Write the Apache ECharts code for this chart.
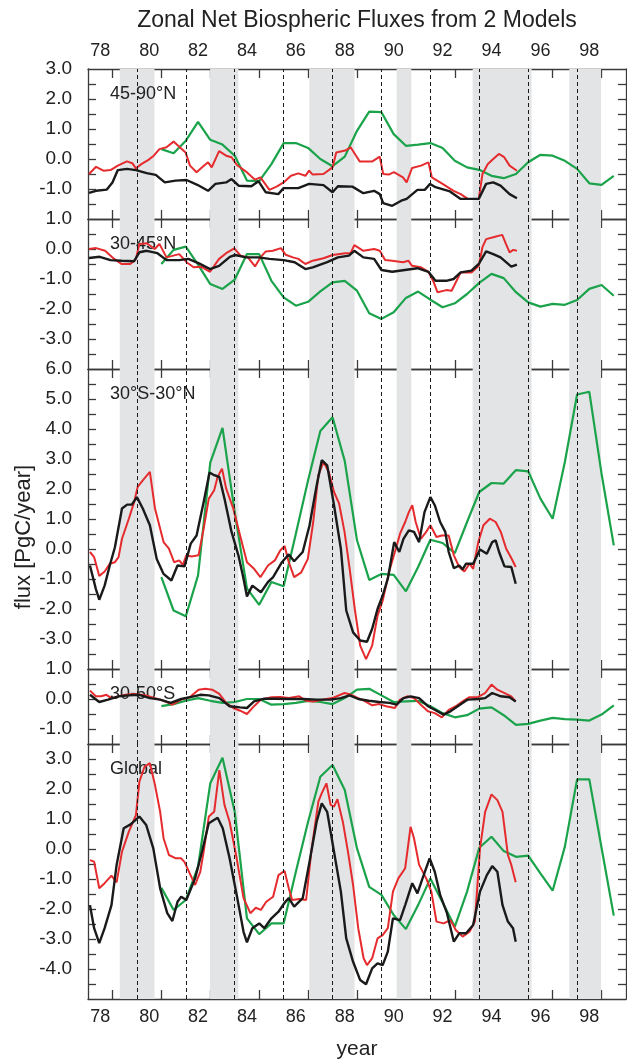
<!DOCTYPE html>
<html>
<head>
<meta charset="utf-8">
<script src="https://cdn.jsdelivr.net/npm/echarts@6/dist/echarts.min.js"></script>
<style>
html,body{margin:0;padding:0;background:#fff;}
#chart{width:627px;height:1061px;}
</style>
</head>
<body>
<div id="chart"></div>
<script>
// ---------------- data ----------------
const xLabelYears = [1978, 1980, 1982, 1984, 1986, 1988, 1990, 1992, 1994, 1996, 1998];
const xTickYears = [1978.5, 1980.5, 1982.5, 1984.5, 1986.5, 1988.5, 1990.5, 1992.5, 1994.5, 1996.5, 1998.5];
const dashedYears = [1979.5, 1981.5, 1983.5, 1985.5, 1987.5, 1989.5, 1991.5, 1993.5, 1995.5, 1997.5];
const ensoBands = [[1978.8, 1980.22], [1982.49, 1983.65], [1986.55, 1988.4], [1990.12, 1990.72], [1993.23, 1995.64], [1997.18, 1998.48]];

const greenYears = [1980.5, 1981, 1981.5, 1982, 1982.5, 1983, 1983.5, 1984, 1984.5, 1985, 1985.5, 1986, 1986.5, 1987, 1987.5, 1988, 1988.5, 1989, 1989.5, 1990, 1990.5, 1991, 1991.5, 1992, 1992.5, 1993, 1993.5, 1994, 1994.5, 1995, 1995.5, 1996, 1996.5, 1997, 1997.5, 1998, 1998.5, 1999];

const green45_90N = [0.33, 0.19, 0.61, 1.24, 0.64, 0.48, 0.11, -0.72, -0.74, -0.17, 0.53, 0.53, 0.37, 0.0, -0.24, 0.08, 0.94, 1.58, 1.56, 0.83, 0.44, 0.48, 0.53, 0.37, -0.06, -0.28, -0.36, -0.56, -0.64, -0.5, -0.11, 0.14, 0.11, -0.06, -0.33, -0.81, -0.86, -0.56];
const green30_45N = [-0.5, -0.03, 0.08, -0.52, -1.17, -1.33, -1.02, -0.17, -0.17, -1.06, -1.61, -1.89, -1.76, -1.41, -1.11, -1.06, -1.39, -2.14, -2.33, -2.11, -1.63, -1.42, -1.69, -1.94, -1.81, -1.5, -1.13, -0.83, -0.97, -1.44, -1.78, -1.92, -1.83, -1.86, -1.7, -1.33, -1.2, -1.56];
const green30S_30N = [-0.94, -2.05, -2.24, -0.88, 2.88, 4.04, 1.23, -1.31, -1.86, -1.1, -1.24, 0.51, 2.29, 3.93, 4.39, 2.93, 0.29, -1.03, -0.83, -0.86, -1.41, -0.6, 0.31, 0.2, -0.14, 0.9, 1.9, 2.2, 2.18, 2.63, 2.59, 1.68, 1.01, 2.9, 5.15, 5.24, 2.51, 0.12];
const green30_50S = [-0.24, -0.17, -0.06, 0.03, -0.06, -0.13, -0.1, 0.0, 0.0, -0.19, -0.17, -0.13, -0.06, -0.1, -0.17, 0.03, 0.31, 0.34, 0.12, -0.1, -0.08, -0.06, -0.24, -0.47, -0.61, -0.54, -0.32, -0.28, -0.54, -0.86, -0.83, -0.72, -0.63, -0.67, -0.69, -0.72, -0.52, -0.21];
const greenGlobal = [-1.29, -2.03, -1.7, -0.59, 2.19, 3.04, 1.24, -2.31, -2.84, -2.48, -2.48, -0.76, 0.91, 2.41, 2.8, 1.97, 0.02, -1.26, -1.53, -2.2, -2.67, -1.87, -0.98, -1.78, -2.59, -1.42, 0.04, 0.41, -0.07, -0.26, -0.22, -0.81, -1.39, 0.08, 2.32, 2.32, 0.04, -2.22];

const red45_90N = [[1977.54,-0.5],[1977.83,-0.26],[1978.13,-0.39],[1978.42,-0.37],[1978.72,-0.22],[1979.09,-0.08],[1979.31,-0.14],[1979.46,-0.31],[1979.68,-0.17],[1979.97,-0.03],[1980.19,0.11],[1980.42,0.33],[1980.71,0.39],[1981.0,0.58],[1981.23,0.41],[1981.49,0.22],[1981.67,-0.22],[1981.94,-0.44],[1982.19,-0.26],[1982.41,-0.11],[1982.56,-0.28],[1982.86,0.26],[1983.15,0.11],[1983.37,0.06],[1983.59,-0.2],[1983.96,-0.42],[1984.33,-0.69],[1984.55,-0.61],[1984.92,-1.03],[1985.21,-0.92],[1985.5,-0.78],[1985.8,-0.56],[1986.1,-0.48],[1986.39,-0.56],[1986.54,-0.39],[1986.69,-0.52],[1987.13,-0.5],[1987.5,-0.28],[1987.65,0.22],[1988.02,0.28],[1988.24,0.39],[1988.46,0.11],[1988.61,-0.08],[1989.13,-0.08],[1989.43,0.08],[1989.57,-0.5],[1989.8,-0.52],[1990.01,-0.44],[1990.38,-0.61],[1990.53,-0.78],[1990.75,-0.3],[1991.12,-0.22],[1991.42,-0.11],[1991.56,-0.61],[1992.0,-0.83],[1992.45,-1.06],[1992.74,-1.17],[1993.03,-1.33],[1993.48,-1.33],[1993.63,-0.5],[1993.85,-0.17],[1994.07,0.0],[1994.3,0.17],[1994.52,0.06],[1994.74,-0.22],[1995.04,-0.39]];
const black45_90N = [[1977.54,-1.13],[1977.83,-1.06],[1978.27,-1.02],[1978.5,-0.78],[1978.72,-0.37],[1979.09,-0.33],[1979.46,-0.37],[1979.9,-0.47],[1980.27,-0.53],[1980.64,-0.78],[1981.08,-0.72],[1981.53,-0.7],[1981.97,-0.86],[1982.41,-1.06],[1982.71,-0.83],[1983.15,-0.78],[1983.37,-0.67],[1983.66,-0.89],[1984.18,-0.91],[1984.47,-0.74],[1984.77,-1.11],[1985.28,-1.17],[1985.5,-0.97],[1986.1,-0.97],[1986.54,-0.83],[1987.13,-0.87],[1987.5,-1.11],[1987.72,-0.91],[1988.31,-0.92],[1988.76,-1.14],[1989.2,-1.06],[1989.43,-1.17],[1989.57,-1.47],[1989.94,-1.56],[1990.31,-1.39],[1990.53,-1.33],[1990.97,-1.03],[1991.27,-1.03],[1991.49,-0.83],[1991.71,-0.94],[1992.3,-1.08],[1992.74,-1.33],[1993.48,-1.33],[1993.78,-0.83],[1994.07,-0.78],[1994.37,-0.89],[1994.74,-1.17],[1995.04,-1.31]];

const red30_45N = [[1977.54,0.0],[1977.83,0.03],[1978.2,-0.06],[1978.57,-0.33],[1978.87,-0.5],[1979.23,-0.5],[1979.46,-0.33],[1979.6,0.17],[1979.9,0.19],[1980.23,0.0],[1980.42,0.17],[1980.71,-0.28],[1981.23,-0.17],[1981.53,-0.44],[1981.82,-0.61],[1982.12,-0.59],[1982.49,-0.76],[1982.86,-0.33],[1983.15,-0.14],[1983.48,0.02],[1983.74,-0.22],[1984.04,-0.28],[1984.33,-0.58],[1984.55,-0.28],[1984.77,-0.08],[1985.06,-0.06],[1985.39,0.03],[1985.58,-0.19],[1985.88,-0.28],[1986.1,-0.33],[1986.39,-0.5],[1986.69,-0.39],[1987.13,-0.31],[1987.5,-0.2],[1988.02,-0.14],[1988.24,-0.14],[1988.39,0.13],[1988.76,-0.06],[1989.2,0.0],[1989.43,-0.06],[1989.65,-0.37],[1989.94,-0.39],[1990.38,-0.44],[1990.6,-0.39],[1990.75,-0.56],[1991.12,-0.61],[1991.42,-0.76],[1991.64,-1.11],[1991.79,-1.44],[1992.15,-1.37],[1992.37,-1.39],[1992.74,-0.78],[1993.18,-0.78],[1993.48,-0.56],[1993.63,0.06],[1993.78,0.33],[1994.07,0.39],[1994.44,0.47],[1994.59,0.17],[1994.74,-0.11],[1994.89,-0.03],[1995.04,-0.06]];
const black30_45N = [[1977.54,-0.3],[1977.98,-0.26],[1978.42,-0.37],[1978.87,-0.39],[1979.38,-0.41],[1979.6,-0.11],[1979.9,-0.06],[1980.34,-0.14],[1980.71,-0.37],[1981.23,-0.37],[1981.6,-0.33],[1982.04,-0.48],[1982.49,-0.67],[1982.86,-0.56],[1983.3,-0.26],[1983.52,-0.2],[1983.96,-0.28],[1984.47,-0.28],[1984.92,-0.33],[1985.5,-0.37],[1985.95,-0.44],[1986.39,-0.67],[1986.69,-0.61],[1987.28,-0.44],[1987.72,-0.28],[1988.17,-0.22],[1988.39,-0.06],[1988.76,-0.28],[1989.2,-0.33],[1989.5,-0.7],[1989.94,-0.76],[1990.53,-0.69],[1990.97,-0.64],[1991.42,-0.76],[1991.71,-1.06],[1992.15,-1.06],[1992.45,-1.0],[1992.74,-0.78],[1993.18,-0.72],[1993.48,-0.5],[1993.78,-0.08],[1994.07,-0.17],[1994.37,-0.28],[1994.81,-0.59],[1995.04,-0.52]];

const red30S_30N = [[1977.58,-0.1],[1977.75,-0.27],[1977.96,-0.9],[1978.18,-0.75],[1978.39,-0.49],[1978.6,-0.44],[1978.75,-0.27],[1978.89,0.34],[1979.17,1.01],[1979.39,1.57],[1979.53,2.07],[1979.74,2.29],[1980.03,2.57],[1980.24,1.35],[1980.59,0.23],[1980.81,0.01],[1981.02,-0.44],[1981.23,-0.38],[1981.38,-0.53],[1981.52,-0.21],[1981.73,-0.25],[1982.02,-0.21],[1982.23,0.68],[1982.44,1.68],[1982.66,1.96],[1982.8,2.4],[1982.98,2.68],[1983.15,2.01],[1983.44,1.35],[1983.72,0.45],[1984.0,-0.44],[1984.29,-0.66],[1984.55,-0.94],[1984.86,-0.55],[1985.14,-0.38],[1985.36,-0.05],[1985.54,0.1],[1985.71,-0.44],[1985.93,-0.94],[1986.21,-0.79],[1986.49,-0.33],[1986.71,0.9],[1986.92,2.46],[1987.13,2.9],[1987.35,2.57],[1987.56,1.9],[1987.77,1.51],[1987.99,0.57],[1988.2,-0.66],[1988.41,-2.0],[1988.63,-3.22],[1988.87,-3.67],[1989.12,-3.22],[1989.34,-2.22],[1989.55,-1.72],[1989.83,-0.71],[1990.05,-0.1],[1990.26,0.51],[1990.47,0.9],[1990.62,1.23],[1990.76,1.46],[1990.9,0.9],[1991.11,0.34],[1991.33,0.57],[1991.5,0.79],[1991.75,0.4],[1991.97,0.45],[1992.25,0.45],[1992.46,-0.21],[1992.68,-0.6],[1992.89,-0.75],[1993.1,-0.49],[1993.25,-0.66],[1993.46,0.23],[1993.67,0.79],[1993.93,1.01],[1994.17,0.9],[1994.38,0.57],[1994.6,0.01],[1994.81,-0.3],[1994.99,-0.6]];
const black30S_30N = [[1977.58,-0.55],[1977.82,-1.33],[1977.96,-1.69],[1978.18,-1.22],[1978.39,-0.55],[1978.6,0.06],[1978.89,1.35],[1979.1,1.48],[1979.29,1.48],[1979.5,1.73],[1979.74,1.35],[1980.03,0.79],[1980.31,-0.33],[1980.59,-0.83],[1980.91,-1.05],[1981.16,-0.55],[1981.45,-0.58],[1981.7,0.18],[1981.94,0.45],[1982.23,1.57],[1982.47,2.55],[1982.66,2.46],[1982.87,2.4],[1983.08,1.68],[1983.37,0.57],[1983.65,-0.21],[1983.86,-0.99],[1984.0,-1.58],[1984.22,-1.22],[1984.57,-1.44],[1984.86,-1.1],[1985.07,-0.94],[1985.43,-0.44],[1985.71,-0.18],[1985.93,-0.41],[1986.28,-0.1],[1986.56,0.79],[1986.85,2.12],[1987.06,2.96],[1987.28,2.79],[1987.56,1.46],[1987.84,0.01],[1988.06,-2.05],[1988.34,-2.78],[1988.63,-3.05],[1988.91,-3.09],[1989.12,-2.66],[1989.34,-2.0],[1989.55,-1.55],[1989.76,-0.99],[1990.02,0.23],[1990.23,-0.1],[1990.4,0.34],[1990.62,0.62],[1990.83,0.57],[1991.04,0.23],[1991.26,1.23],[1991.5,1.73],[1991.68,1.46],[1991.9,0.9],[1992.11,0.57],[1992.25,-0.1],[1992.46,-0.64],[1992.68,-0.55],[1992.82,-0.68],[1992.96,-0.49],[1993.25,-0.49],[1993.53,-0.02],[1993.81,-0.16],[1994.03,0.23],[1994.17,0.29],[1994.31,-0.1],[1994.53,-0.58],[1994.81,-0.6],[1994.99,-1.16]];

const red30_50S = [[1977.58,0.28],[1977.82,0.09],[1978.04,0.09],[1978.25,0.14],[1978.46,0.03],[1978.75,0.09],[1979.03,0.14],[1979.46,0.17],[1979.88,0.12],[1980.24,0.03],[1980.59,-0.06],[1980.95,-0.19],[1981.31,-0.02],[1981.66,0.06],[1982.02,0.31],[1982.3,0.34],[1982.58,0.31],[1982.87,0.17],[1983.15,-0.13],[1983.44,-0.3],[1983.72,-0.39],[1984.0,-0.5],[1984.29,-0.24],[1984.57,-0.02],[1985.0,0.06],[1985.36,0.07],[1985.71,0.03],[1986.14,0.09],[1986.42,-0.06],[1986.71,-0.08],[1987.13,-0.02],[1987.49,0.03],[1987.99,0.2],[1988.27,0.14],[1988.55,0.03],[1988.84,-0.08],[1989.12,-0.21],[1989.41,-0.17],[1989.69,-0.24],[1990.05,-0.3],[1990.26,-0.02],[1990.55,0.09],[1990.83,0.03],[1991.11,-0.19],[1991.4,-0.41],[1991.68,-0.47],[1991.97,-0.61],[1992.25,-0.36],[1992.54,-0.24],[1992.82,-0.08],[1993.1,0.06],[1993.46,0.07],[1993.74,0.2],[1994.0,0.48],[1994.24,0.31],[1994.6,0.17],[1994.81,0.09],[1994.99,-0.08]];
const black30_50S = [[1977.58,0.14],[1977.96,-0.1],[1978.32,-0.02],[1978.75,0.09],[1979.17,0.12],[1979.6,0.14],[1980.03,0.03],[1980.45,-0.02],[1980.88,-0.13],[1981.31,0.0],[1981.73,0.07],[1982.09,0.14],[1982.44,0.12],[1982.87,0.03],[1983.29,-0.24],[1983.72,-0.28],[1984.0,-0.3],[1984.29,-0.08],[1984.71,0.01],[1985.14,0.01],[1985.71,0.0],[1986.28,0.0],[1986.85,-0.02],[1987.42,-0.02],[1987.84,0.03],[1988.2,0.12],[1988.55,0.0],[1988.98,-0.06],[1989.41,-0.1],[1989.83,-0.13],[1990.12,-0.19],[1990.4,0.03],[1990.69,0.09],[1991.04,0.03],[1991.4,-0.24],[1991.68,-0.36],[1992.04,-0.52],[1992.32,-0.41],[1992.68,-0.21],[1993.03,-0.02],[1993.46,0.0],[1993.74,0.03],[1994.03,0.2],[1994.38,0.09],[1994.74,0.06],[1994.99,-0.08]];

const redGlobal = [[1977.58,-0.37],[1977.75,-0.42],[1977.96,-1.31],[1978.18,-1.14],[1978.46,-0.89],[1978.67,-1.11],[1978.89,-0.09],[1979.17,0.58],[1979.46,1.13],[1979.6,2.24],[1979.81,2.74],[1980.03,2.86],[1980.24,2.13],[1980.45,1.24],[1980.59,0.36],[1980.81,-0.2],[1981.09,-0.31],[1981.31,-0.31],[1981.45,-0.44],[1981.66,-0.81],[1981.88,-1.2],[1982.09,-0.76],[1982.23,-0.09],[1982.44,1.08],[1982.66,1.24],[1982.87,2.63],[1983.08,1.47],[1983.29,0.91],[1983.58,-0.31],[1983.86,-1.64],[1984.14,-2.14],[1984.36,-1.96],[1984.57,-2.03],[1984.79,-1.76],[1985.07,-1.59],[1985.29,-0.87],[1985.54,-0.73],[1985.71,-1.31],[1985.85,-1.7],[1986.14,-1.67],[1986.42,-1.7],[1986.63,-0.09],[1986.92,1.58],[1987.06,1.86],[1987.25,2.19],[1987.42,1.47],[1987.56,1.41],[1987.7,1.66],[1987.92,0.91],[1988.13,-0.09],[1988.34,-1.2],[1988.55,-2.64],[1988.77,-3.64],[1988.91,-3.87],[1989.12,-3.64],[1989.34,-2.98],[1989.55,-2.87],[1989.76,-2.64],[1989.97,-1.42],[1990.19,-0.98],[1990.47,-0.64],[1990.69,0.74],[1990.83,0.36],[1991.04,-0.53],[1991.33,-0.98],[1991.54,-1.42],[1991.75,-2.42],[1992.04,-2.48],[1992.32,-2.37],[1992.54,-2.7],[1992.82,-2.92],[1993.1,-2.76],[1993.32,-2.42],[1993.53,0.02],[1993.74,1.24],[1994.0,1.82],[1994.24,1.63],[1994.45,1.24],[1994.67,-0.2],[1994.81,-0.53],[1994.99,-1.11]];
const blackGlobal = [[1977.58,-1.87],[1977.75,-2.64],[1977.96,-3.14],[1978.18,-2.64],[1978.46,-1.87],[1978.67,-0.53],[1978.96,0.69],[1979.24,0.82],[1979.6,1.08],[1979.88,0.8],[1980.17,0.02],[1980.45,-1.31],[1980.74,-2.14],[1980.95,-2.4],[1981.16,-1.76],[1981.31,-1.59],[1981.52,-1.7],[1981.88,-0.98],[1982.16,-0.09],[1982.44,0.86],[1982.8,1.04],[1983.01,0.69],[1983.29,-0.31],[1983.58,-1.53],[1983.86,-2.76],[1984.0,-3.11],[1984.22,-2.64],[1984.5,-2.48],[1984.71,-2.64],[1985.0,-2.31],[1985.29,-2.09],[1985.57,-1.76],[1985.71,-1.64],[1985.93,-1.92],[1986.28,-1.64],[1986.56,-0.42],[1986.85,0.91],[1987.06,1.52],[1987.28,1.24],[1987.56,-0.09],[1987.84,-1.42],[1988.06,-2.98],[1988.34,-3.76],[1988.63,-4.37],[1988.87,-4.51],[1989.12,-3.98],[1989.34,-3.81],[1989.55,-3.87],[1989.76,-3.42],[1989.97,-2.31],[1990.26,-2.37],[1990.47,-1.87],[1990.76,-1.14],[1990.97,-1.48],[1991.18,-0.98],[1991.47,-0.31],[1991.68,-0.76],[1991.9,-1.53],[1992.18,-2.14],[1992.46,-3.09],[1992.68,-2.81],[1992.96,-2.81],[1993.25,-2.53],[1993.53,-1.42],[1993.81,-0.87],[1994.03,-0.57],[1994.24,-0.76],[1994.45,-1.87],[1994.67,-2.42],[1994.88,-2.64],[1994.99,-3.09]];

const yLabels45_90N = [-1, 0, 1, 2, 3];
const yTicks45_90N = [-1.5, -1, -0.5, 0, 0.5, 1, 1.5, 2, 2.5];
const yLabels30_45N = [-3, -2, -1, 0, 1];
const yTicks30_45N = [-3.5, -3, -2.5, -2, -1.5, -1, -0.5, 0, 0.5];
const yLabels30S_30N = [-3, -2, -1, 0, 1, 2, 3, 4, 5, 6];
const yTicks30S_30N = [-3.5, -3, -2.5, -2, -1.5, -1, -0.5, 0, 0.5, 1, 1.5, 2, 2.5, 3, 3.5, 4, 4.5, 5, 5.5];
const yLabels30_50S = [-1, 0, 1];
const yTicks30_50S = [-1, -0.5, 0, 0.5];
const yLabelsGlobal = [-4, -3, -2, -1, 0, 1, 2, 3];
const yTicksGlobal = [-4.5, -4, -3.5, -3, -2.5, -2, -1.5, -1, -0.5, 0, 0.5, 1, 1.5, 2, 2.5, 3];

// ---------------- layout ----------------
const FONT = '"Liberation Sans", Arial, Helvetica, sans-serif';
const LEFT = 88, WIDTH = 538;
const panels = [
  {name: '45-90°N',   top: 69,  height: 150, min: -2, max: 3,   labels: yLabels45_90N,  ticks: yTicks45_90N,  red: red45_90N,  black: black45_90N,  green: green45_90N},
  {name: '30-45°N',   top: 219, height: 150, min: -4, max: 1,   labels: yLabels30_45N,  ticks: yTicks30_45N,  red: red30_45N,  black: black30_45N,  green: green30_45N},
  {name: '30°S-30°N', top: 369, height: 300, min: -4, max: 6,   labels: yLabels30S_30N, ticks: yTicks30S_30N, red: red30S_30N, black: black30S_30N, green: green30S_30N},
  {name: '30-50°S',   top: 669, height: 75,  min: -1.5, max: 1, labels: yLabels30_50S,  ticks: yTicks30_50S,  red: red30_50S,  black: black30_50S,  green: green30_50S},
  {name: 'Global',    top: 744, height: 255, min: -5, max: 3.5, labels: yLabelsGlobal,  ticks: yTicksGlobal,  red: redGlobal,  black: blackGlobal,  green: greenGlobal}
];

const axisColor = '#3a3a3a';
const lineStyleAxis = {color: axisColor, width: 1.3};
const grids = [], xAxes = [], yAxes = [], series = [], graphics = [];

panels.forEach((p, i) => {
  grids.push({left: LEFT, width: WIDTH, top: p.top, height: p.height, containLabel: false, outerBoundsMode: 'none'});
  ['bottom', 'top'].forEach(pos => {
    const showLab = (pos === 'bottom' && i === panels.length - 1) || (pos === 'top' && i === 0);
    xAxes.push({
      gridIndex: i, type: 'value', position: pos, min: 1977.5, max: 1999.5,
      axisLine: {show: true, onZero: false, lineStyle: lineStyleAxis},
      axisTick: {show: true, inside: true, length: 9, customValues: xTickYears, lineStyle: lineStyleAxis},
      axisLabel: {show: showLab, customValues: xLabelYears, margin: 9, fontSize: 18, fontFamily: FONT, color: '#222',
                  formatter: v => String(Math.round(v) % 100)},
      splitLine: {show: false}
    });
  });
  ['left', 'right'].forEach(pos => {
    yAxes.push({
      gridIndex: i, type: 'value', position: pos, min: p.min, max: p.max,
      axisLine: {show: true, onZero: false, lineStyle: lineStyleAxis},
      axisTick: {show: true, inside: true, length: 8, customValues: p.ticks, lineStyle: lineStyleAxis},
      axisLabel: {show: pos === 'left', customValues: p.labels, margin: 16, fontSize: 19, fontFamily: FONT, color: '#222',
                  formatter: v => v.toFixed(1)},
      splitLine: {show: false}
    });
  });
  const xi = i * 2, yi = i * 2;
  // background bands and dashed year lines
  series.push({
    type: 'line', xAxisIndex: xi, yAxisIndex: yi, z: 1, silent: true, animation: false,
    data: [[1977.5, p.min]], showSymbol: false, lineStyle: {opacity: 0},
    markArea: {silent: true, animation: false, itemStyle: {color: '#e3e4e6'},
               data: ensoBands.map(b => [{xAxis: b[0]}, {xAxis: b[1]}])},
    markLine: {silent: true, animation: false, symbol: 'none', label: {show: false},
               lineStyle: {type: [4, 3], color: '#1a1a1a', width: 1},
               data: dashedYears.map(x => ({xAxis: x}))}
  });
  series.push({type: 'line', xAxisIndex: xi, yAxisIndex: yi, z: 3, animation: false, showSymbol: false,
    data: greenYears.map((x, k) => [x, p.green[k]]), lineStyle: {color: '#1aa34a', width: 2.2}, itemStyle: {color: '#1aa34a'}});
  series.push({type: 'line', xAxisIndex: xi, yAxisIndex: yi, z: 4, animation: false, showSymbol: false,
    data: p.red, lineStyle: {color: '#e52b2d', width: 2.0}, itemStyle: {color: '#e52b2d'}});
  series.push({type: 'line', xAxisIndex: xi, yAxisIndex: yi, z: 5, animation: false, showSymbol: false,
    data: p.black, lineStyle: {color: '#1a1a1a', width: 2.4}, itemStyle: {color: '#1a1a1a'}});
  graphics.push({type: 'text', x: 110, y: p.top + 25, z: 2,
    style: {text: p.name, font: '18px ' + FONT, fill: '#222', align: 'left', verticalAlign: 'middle',
            textAlign: 'left', textVerticalAlign: 'middle'}});
});

graphics.push({type: 'text', x: 357, y: 21, style: {text: 'Zonal Net Biospheric Fluxes from 2 Models', font: '23px ' + FONT, fill: '#222',
  align: 'center', verticalAlign: 'middle', textAlign: 'center', textVerticalAlign: 'middle'}});
graphics.push({type: 'text', x: 357, y: 1049, style: {text: 'year', font: '21px ' + FONT, fill: '#222',
  align: 'center', verticalAlign: 'middle', textAlign: 'center', textVerticalAlign: 'middle'}});
graphics.push({type: 'text', x: 24, y: 537, rotation: Math.PI / 2, style: {text: 'flux [PgC/year]', font: '22px ' + FONT, fill: '#222',
  align: 'center', verticalAlign: 'middle', textAlign: 'center', textVerticalAlign: 'middle'}});

const chart = echarts.init(document.getElementById('chart'), null, {renderer: 'canvas'});
chart.setOption({
  animation: false,
  backgroundColor: '#ffffff',
  grid: grids, xAxis: xAxes, yAxis: yAxes, series: series,
  graphic: graphics
});
</script>
</body>
</html>
